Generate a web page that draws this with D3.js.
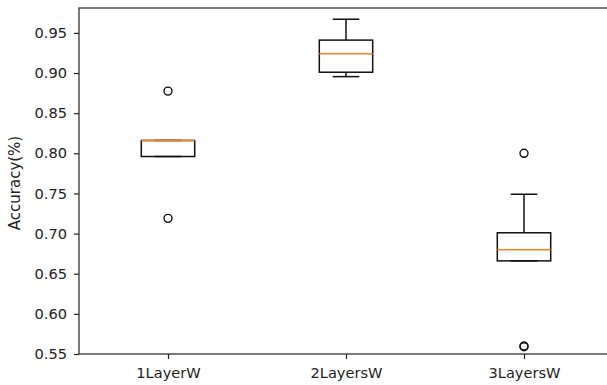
<!DOCTYPE html>
<html>
<head>
  <title>Accuracy box plot</title>
  <style>
    body { margin: 0; background: #fff; }
    svg { display: block; font-family: "DejaVu Sans", sans-serif; }
    .axis { font-family: "DejaVu Sans", sans-serif; }
    .axis text { font-size: 14.6px; fill: #222; }
    .axis path, .axis line { stroke: #222; stroke-width: 1.2; }
  </style>
</head>
<body>
  <svg id="chart" width="607" height="385"></svg>

  <script src="https://d3js.org/d3.v7.min.js"></script>
  <script>
    // Box statistics
    const models = ['1LayerW', '2LayersW', '3LayersW'];
    const whiskerLow = [0.796, 0.8955, 0.666];
    const q1 = [0.796, 0.901, 0.666];
    const median = [0.816, 0.924, 0.680];
    const q3 = [0.816, 0.941, 0.701];
    const whiskerHigh = [0.816, 0.967, 0.749];
    const outliers = [[0.8775, 0.719], [], [0.800, 0.559, 0.560]];
    const yTicks = [0.55, 0.60, 0.65, 0.70, 0.75, 0.80, 0.85, 0.90, 0.95];

    const svg = d3.select('#chart');

    // positions 1..3, xlim 0.5..3.5 like matplotlib
    const x = d3.scaleLinear().domain([0.5, 3.5]).range([79, 613]);
    const y = d3.scaleLinear().domain([0.55, 0.981]).range([354, 8]);

    const boxW = x(1.15) - x(0.85);
    const capW = x(1.075) - x(0.925);

    const boxes = models.map((m, i) => ({
      name: m, pos: i + 1,
      lo: whiskerLow[i], q1: q1[i], med: median[i], q3: q3[i], hi: whiskerHigh[i],
      fliers: outliers[i]
    }));

    const g = svg.append('g');

    // whiskers
    g.selectAll('.whisker-low')
      .data(boxes)
      .enter()
      .append('line')
      .attr('x1', d => x(d.pos)).attr('x2', d => x(d.pos))
      .attr('y1', d => y(d.q1)).attr('y2', d => y(d.lo))
      .attr('stroke', '#111').attr('stroke-width', 1.5);

    g.selectAll('.whisker-high')
      .data(boxes)
      .enter()
      .append('line')
      .attr('x1', d => x(d.pos)).attr('x2', d => x(d.pos))
      .attr('y1', d => y(d.q3)).attr('y2', d => y(d.hi))
      .attr('stroke', '#111').attr('stroke-width', 1.5);

    // caps
    g.selectAll('.cap-low')
      .data(boxes)
      .enter()
      .append('line')
      .attr('x1', d => x(d.pos) - capW / 2).attr('x2', d => x(d.pos) + capW / 2)
      .attr('y1', d => y(d.lo)).attr('y2', d => y(d.lo))
      .attr('stroke', '#111').attr('stroke-width', 1.5);

    g.selectAll('.cap-high')
      .data(boxes)
      .enter()
      .append('line')
      .attr('x1', d => x(d.pos) - capW / 2).attr('x2', d => x(d.pos) + capW / 2)
      .attr('y1', d => y(d.hi)).attr('y2', d => y(d.hi))
      .attr('stroke', '#111').attr('stroke-width', 1.5);

    // boxes
    g.selectAll('.box')
      .data(boxes)
      .enter()
      .append('rect')
      .attr('x', d => x(d.pos) - boxW / 2)
      .attr('y', d => y(d.q3))
      .attr('width', boxW)
      .attr('height', d => y(d.q1) - y(d.q3))
      .attr('fill', 'none')
      .attr('stroke', '#111')
      .attr('stroke-width', 1.5);

    // medians
    g.selectAll('.median')
      .data(boxes)
      .enter()
      .append('line')
      .attr('x1', d => x(d.pos) - boxW / 2).attr('x2', d => x(d.pos) + boxW / 2)
      .attr('y1', d => y(d.med)).attr('y2', d => y(d.med))
      .attr('stroke', '#ff7f0e').attr('stroke-width', 1.5);

    // outliers
    const fliers = boxes.flatMap(d => d.fliers.map(v => ({ pos: d.pos, v })));
    g.selectAll('.flier')
      .data(fliers)
      .enter()
      .append('circle')
      .attr('cx', d => x(d.pos))
      .attr('cy', d => y(d.v))
      .attr('r', 4)
      .attr('fill', 'none')
      .attr('stroke', '#111')
      .attr('stroke-width', 1.4);

    // axes
    svg.append('g')
      .attr('class', 'axis')
      .attr('transform', 'translate(79,0)')
      .call(d3.axisLeft(y).tickValues(yTicks).tickFormat(d3.format('.2f')).tickSize(5).tickPadding(7))
      .call(a => a.select('.domain').remove())
      .attr('font-family', null).attr('font-size', null);

    svg.append('g')
      .attr('class', 'axis')
      .attr('transform', 'translate(0,354)')
      .call(d3.axisBottom(x).tickValues([1, 2, 3]).tickFormat(d => models[d - 1]).tickSize(5).tickPadding(9))
      .call(a => a.select('.domain').remove())
      .attr('font-family', null).attr('font-size', null);

    // frame (right side falls just outside the picture)
    svg.append('rect')
      .attr('x', x(0.5)).attr('y', y(0.981))
      .attr('width', x(3.5) - x(0.5))
      .attr('height', y(0.55) - y(0.981))
      .attr('fill', 'none')
      .attr('stroke', '#222')
      .attr('stroke-width', 1.2);

    // y label
    svg.append('text')
      .attr('transform', 'translate(20,183) rotate(-90)')
      .attr('text-anchor', 'middle')
      .style('font-size', '15px')
      .style('fill', '#222')
      .text('Accuracy(%)');
  </script>
</body>
</html>
